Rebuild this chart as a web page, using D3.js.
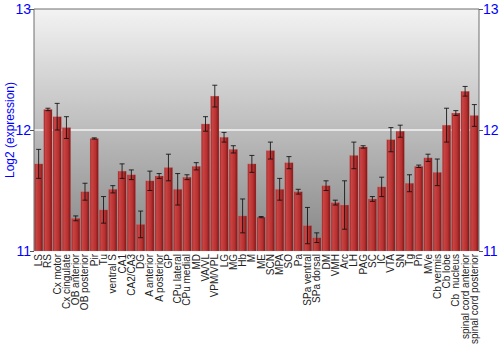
<!DOCTYPE html>
<html>
<head>
<meta charset="utf-8">
<script src="https://cdn.jsdelivr.net/npm/d3@7"></script>
<style>
  body { margin: 0; background: #fff; }
  svg { font-family: "Liberation Sans", Arial, sans-serif; }
</style>
</head>
<body>
<script>
// brain regions, in the order they appear along the x axis
var regions = ["LS", "RS", "Cx motor", "Cx cingulate", "OB anterior", "OB posterior", "Pir", "Tu",
    "ventral S", "CA1", "CA2/CA3", "DG", "A anterior", "A posterior", "GP", "CPu lateral",
    "CPu medial", "MD", "VA/VL", "VPM/VPL", "LG", "MG", "Hb", "M", "ME", "SCN", "MPA", "SO",
    "Pa", "SPa ventral", "SPa dorsal", "DM", "VMH", "Arc", "LH", "PAG", "SC", "IC", "VTA",
    "SN", "Tg", "Pn", "MVe", "Cb vermis", "Cb lobe", "Cb  nucleus", "spinal cord anterior",
    "spinal cord posterior"];

var expression = [11.72, 12.17, 12.11, 12.02, 11.27, 11.49, 11.93, 11.34,
    11.51, 11.66, 11.63, 11.22, 11.58, 11.62, 11.69, 11.51,
    11.61, 11.70, 12.05, 12.28, 11.94, 11.84, 11.29, 11.72, 11.28, 11.83, 11.51, 11.73,
    11.49, 11.21, 11.11, 11.54, 11.40, 11.38, 11.79, 11.86, 11.43, 11.53, 11.92,
    11.99, 11.56, 11.70, 11.77, 11.65, 12.04, 12.14, 12.32, 12.12];

var stdErr = [0.12, 0.01, 0.11, 0.09, 0.02, 0.07, 0.005, 0.11,
    0.03, 0.06, 0.04, 0.11, 0.08, 0.02, 0.11, 0.13,
    0.02, 0.03, 0.06, 0.09, 0.04, 0.03, 0.14, 0.07, 0.005, 0.07, 0.09, 0.05,
    0.02, 0.15, 0.04, 0.04, 0.02, 0.20, 0.11, 0.01, 0.02, 0.08, 0.10,
    0.05, 0.07, 0.01, 0.03, 0.11, 0.14, 0.02, 0.04, 0.09];

var yTicks = [11, 12, 13];

(function() {
    var width = 500,
        height = 350,
        plotLeft = 34,
        plotRight = 479,
        plotTop = 9,
        plotBottom = 251;

    var data = regions.map(function(r, i) {
        return {name: r, value: expression[i], err: stdErr[i]};
    });

    var svg = d3.select("body").append("svg")
        .attr("width", width)
        .attr("height", height);

    var defs = svg.append("defs");

    var bg = defs.append("linearGradient")
        .attr("id", "bgGrad")
        .attr("x1", 0).attr("y1", 0).attr("x2", 0).attr("y2", 1);
    bg.append("stop").attr("offset", "0%").attr("stop-color", "#f3f3f3");
    bg.append("stop").attr("offset", "100%").attr("stop-color", "#858585");

    var barGrad = defs.append("linearGradient")
        .attr("id", "barGrad")
        .attr("x1", 0).attr("y1", 0).attr("x2", 1).attr("y2", 0);
    barGrad.append("stop").attr("offset", "0%").attr("stop-color", "#9a2424");
    barGrad.append("stop").attr("offset", "20%").attr("stop-color", "#c94444");
    barGrad.append("stop").attr("offset", "65%").attr("stop-color", "#b83030");
    barGrad.append("stop").attr("offset", "100%").attr("stop-color", "#7c1616");

    var x = d3.scaleBand()
        .domain(regions)
        .range([plotLeft, plotRight])
        .paddingInner(0.1)
        .paddingOuter(0.05);

    var y = d3.scaleLinear()
        .domain([11, 13])
        .range([plotBottom, plotTop]);

    // plot background
    svg.append("rect")
        .attr("x", plotLeft)
        .attr("y", plotTop)
        .attr("width", plotRight - plotLeft)
        .attr("height", plotBottom - plotTop)
        .style("fill", "url(#bgGrad)");

    // grid line at 12 sits behind the bars
    svg.append("line")
        .attr("x1", plotLeft).attr("x2", plotRight)
        .attr("y1", y(12)).attr("y2", y(12))
        .style("stroke", "#f4f4f4")
        .style("stroke-width", 1.5);

    svg.selectAll(".bar")
        .data(data)
        .enter().append("rect")
        .attr("class", "bar")
        .attr("x", function(d) {return x(d.name); })
        .attr("y", function(d) {return y(d.value); })
        .attr("width", x.bandwidth())
        .attr("height", function(d) {return y(11) - y(d.value); })
        .style("fill", "url(#barGrad)")
        .style("stroke", "#d88080")
        .style("stroke-opacity", 0.35)
        .style("stroke-width", 0.6);

    // error bars
    var err = svg.selectAll(".err")
        .data(data)
        .enter().append("g")
        .attr("class", "err")
        .attr("transform", function(d) {return "translate(" + (x(d.name) + x.bandwidth() / 2) + ",0)"; })
        .style("stroke", "#111")
        .style("stroke-opacity", 0.85)
        .style("stroke-width", 1);

    err.append("line")
        .attr("y1", function(d) {return y(d.value - d.err); })
        .attr("y2", function(d) {return y(d.value + d.err); });
    err.append("line")
        .attr("x1", -2.5).attr("x2", 2.5)
        .attr("y1", function(d) {return y(d.value + d.err); })
        .attr("y2", function(d) {return y(d.value + d.err); });
    err.append("line")
        .attr("x1", -2.5).attr("x2", 2.5)
        .attr("y1", function(d) {return y(d.value - d.err); })
        .attr("y2", function(d) {return y(d.value - d.err); });

    // frame
    svg.append("path")
        .attr("d", "M" + plotLeft + "," + plotBottom + "V" + plotTop + "H" + plotRight + "V" + plotBottom)
        .style("fill", "none")
        .style("stroke", "#6e6e6e")
        .style("stroke-width", 1);

    // y axes, left and right
    var leftAxis = svg.append("g")
        .attr("transform", "translate(" + plotLeft + ",0)")
        .call(d3.axisLeft(y).tickValues(yTicks).tickSize(4).tickFormat(d3.format("d")));
    var rightAxis = svg.append("g")
        .attr("transform", "translate(" + plotRight + ",0)")
        .call(d3.axisRight(y).tickValues(yTicks).tickSize(4).tickFormat(d3.format("d")));

    [leftAxis, rightAxis].forEach(function(a) {
        a.select(".domain").remove();
        a.selectAll(".tick line").style("stroke", "#555");
        a.selectAll(".tick text")
            .style("fill", "#0000ff")
            .style("font-size", "14px")
            .attr("dy", "0.35em");
    });
    leftAxis.selectAll(".tick text").attr("x", -3);
    rightAxis.selectAll(".tick text").attr("x", 4);

    svg.append("text")
        .attr("transform", "translate(14," + ((plotTop + plotBottom) / 2) + ") rotate(-90)")
        .attr("text-anchor", "middle")
        .style("fill", "#0000ff")
        .style("font-size", "12px")
        .text("Log2 (expression)");

    // region labels
    svg.selectAll(".xlab")
        .data(regions)
        .enter().append("text")
        .attr("class", "xlab")
        .attr("xml:space", "preserve")
        .attr("transform", function(d) {
            return "translate(" + (x(d) + x.bandwidth() / 2 + 3.5) + "," + (plotBottom + 3) + ") rotate(-90)";
        })
        .attr("text-anchor", "end")
        .style("white-space", "pre")
        .style("fill", "#222")
        .style("font-size", "10px")
        .text(function(d) {return d; });
})();
</script>
</body>
</html>
